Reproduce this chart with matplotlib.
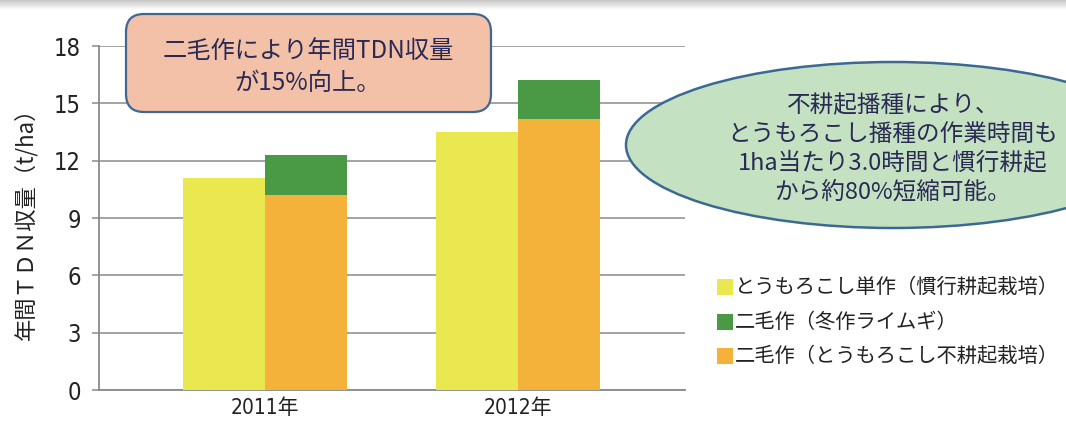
import matplotlib
matplotlib.use("Agg")
import matplotlib.pyplot as plt
import numpy as np
from matplotlib import font_manager
from matplotlib.patches import FancyBboxPatch, Ellipse, Rectangle

categories = ["2011年", "2012年"]
mono_corn = [11.1, 13.5]        # とうもろこし単作（慣行耕起栽培）
double_corn = [10.2, 14.2]      # 二毛作（とうもろこし不耕起栽培）
double_rye = [2.1, 2.0]         # 二毛作（冬作ライムギ）
yticks = [0, 3, 6, 9, 12, 15, 18]
legend_labels = ["とうもろこし単作（慣行耕起栽培）", "二毛作（冬作ライムギ）", "二毛作（とうもろこし不耕起栽培）"]
ylabel = "年間ＴＤＮ収量（t/ha）"
note1 = "二毛作により年間TDN収量\nが15%向上。"
note2 = "不耕起播種により、\nとうもろこし播種の作業時間も\n1ha当たり3.0時間と慣行耕起\nから約80%短縮可能。"

c_yellow = "#EAE84F"
c_green = "#4A9944"
c_orange = "#F4B23A"

names = {f.name for f in font_manager.fontManager.ttflist}
narrow = "Liberation Sans Narrow" if "Liberation Sans Narrow" in names else "DejaVu Sans"
CJK = ["Noto Sans CJK JP", "DejaVu Sans"]
plt.rcParams["font.family"] = CJK

W, H = 1066, 422
fig = plt.figure(figsize=(W / 100, H / 100), dpi=100)
ax = fig.add_axes([99 / W, 1 - 390 / H, (685 - 99) / W, (390 - 46) / H])

x = np.arange(len(categories))
bw = 0.325
ax.bar(x - bw / 2, mono_corn, width=bw, color=c_yellow, zorder=3)
ax.bar(x + bw / 2, double_corn, width=bw, color=c_orange, zorder=3)
ax.bar(x + bw / 2, double_rye, width=bw, bottom=double_corn, color=c_green, zorder=3)

ax.set_xlim(-0.656, 1.66)
ax.set_ylim(0, 18)
ax.set_yticks(yticks)
ax.set_xticks(x)
ax.set_xticklabels(categories, family=[narrow, "Noto Sans CJK JP"], fontstretch="condensed",
                   fontsize=15, color="#222222")
ax.set_yticklabels([str(v) for v in yticks], family=narrow, fontstretch="condensed",
                   fontsize=17, color="#222222")
ax.tick_params(axis="x", length=0, pad=6)
ax.tick_params(axis="y", length=5, width=1.1, color="#8a8a8a", pad=8)
ax.yaxis.grid(True, color="#8a8a8a", linewidth=1.1, zorder=0)
ax.set_axisbelow(True)
for s in ["top", "right"]:
    ax.spines[s].set_visible(False)
for s in ["left", "bottom"]:
    ax.spines[s].set_color("#8a8a8a")
    ax.spines[s].set_linewidth(1.3)
ax.set_ylabel(ylabel, fontsize=16, color="#222222", labelpad=12)

# overlay in pixel coordinates
ov = fig.add_axes([0, 0, 1, 1], zorder=5)
ov.set_xlim(0, W)
ov.set_ylim(H, 0)
ov.axis("off")
ov.patch.set_alpha(0)

# top gray strip
grad = np.linspace(0.78, 1.0, 20).reshape(-1, 1)
ov.imshow(grad, cmap="gray", vmin=0, vmax=1, extent=[0, W, 10, 0], aspect="auto", zorder=1)

box = FancyBboxPatch((126, 14), 491 - 126, 112 - 14,
                     boxstyle="round,pad=0,rounding_size=18", facecolor="#F2C1A8", edgecolor="#3E6792",
                     linewidth=1.6, zorder=2)
ov.add_patch(box)
ov.text(308, 67, note1, ha="center", va="center", fontsize=17.5, color="#2B2A55",
        linespacing=1.28, zorder=3)

ell = Ellipse((893, 145), 534, 166, facecolor="#C4E2C2", edgecolor="#3C6894", linewidth=1.8, zorder=2)
ov.add_patch(ell)
ov.text(893, 149, note2, ha="center", va="center", fontsize=17, color="#2B2A55",
        linespacing=1.32, zorder=3)

leg_colors = [c_yellow, c_green, c_orange]
leg_y = [287, 322, 356]
for lab, col, yy in zip(legend_labels, leg_colors, leg_y):
    ov.add_patch(Rectangle((717, yy - 8), 16, 16, facecolor=col, edgecolor="none", zorder=2))
    ov.text(735, yy, lab, ha="left", va="center", fontsize=14.6, color="#222222", zorder=3)

fig.savefig("out.png", dpi=100)
